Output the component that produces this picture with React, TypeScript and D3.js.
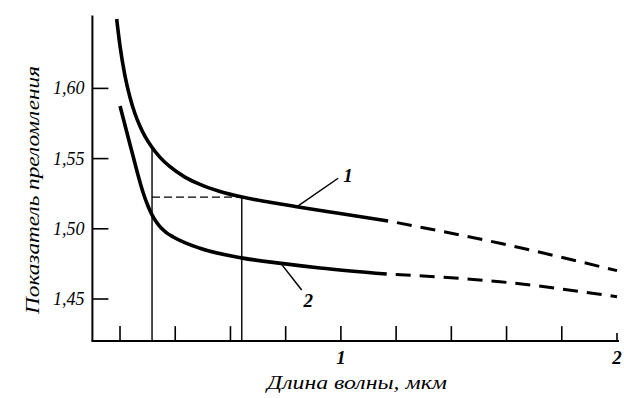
import React from 'react';
import * as d3 from 'd3';

const W = 624;
const H = 398;

// Axis ticks
const xTickValues = [0.2, 0.4, 0.6, 0.8, 1.0, 1.2, 1.4, 1.6, 1.8, 2.0];
const xTickLabels = ['', '', '', '', '1', '', '', '', '', '2'];
const yTickValues = [1.45, 1.5, 1.55, 1.6];
const yTickLabels = ['1,45', '1,50', '1,55', '1,60'];
const xDomain = [0.1, 2.0];
const yExtent = [1.42, 1.652];

// Curve 1 (solid measured part, dashed extrapolation)
const curve1Lambda = [0.188, 0.2, 0.218, 0.236, 0.254, 0.272, 0.29, 0.315, 0.345, 0.381, 0.435, 0.49, 0.562, 0.642, 0.743, 0.834, 0.997, 1.171];
const curve1N = [1.6494, 1.6302, 1.6089, 1.5937, 1.5821, 1.5732, 1.566, 1.5583, 1.5509, 1.5442, 1.5368, 1.5316, 1.5266, 1.5226, 1.5189, 1.5159, 1.5109, 1.5056];
const curve1DashLambda = [1.171, 1.576, 2.0];
const curve1DashN = [1.5056, 1.4897, 1.4702];

// Curve 2
const curve2Lambda = [0.2, 0.2254, 0.2482, 0.2652, 0.2844, 0.3014, 0.3159, 0.3304, 0.3485, 0.3666, 0.393, 0.4897, 0.6393, 0.7914, 0.9244, 1.166];
const curve2N = [1.5875, 1.5682, 1.5511, 1.5383, 1.5253, 1.5162, 1.5099, 1.5052, 1.5007, 1.4975, 1.4942, 1.4861, 1.4793, 1.4752, 1.4721, 1.4678];
const curve2DashLambda = [1.166, 1.576, 2.0];
const curve2DashN = [1.4678, 1.4623, 1.4516];

// Construction lines (wavelength markers and level on curve 1)
const markerLambda = [0.316, 0.641];
const markerN = [1.5581, 1.5226];

// Curve labels with leader lines
const labelText = ['1', '2'];
const leaderStartLambda = [0.84, 0.786];
const leaderStartN = [1.5157, 1.4745];
const leaderEndLambda = [0.99, 0.858];
const leaderEndN = [1.536, 1.4564];
const labelLambda = [1.026, 0.882];
const labelN = [1.5383, 1.4493];

const xTitle = 'Длина волны, мкм';
const yTitle = 'Показатель преломления';

const FONT = '"Liberation Serif", "DejaVu Serif", serif';

export default function App() {
  const x = d3.scaleLinear().domain(xDomain).range([92.4, 617]);
  const y = d3.scaleLinear().domain([1.45, 1.6]).range([299, 88.4]);

  const line = d3
    .line<[number, number]>()
    .x((d) => x(d[0]))
    .y((d) => y(d[1]))
    .curve(d3.curveMonotoneX);

  const zip = (a: number[], b: number[]) => a.map((v, i) => [v, b[i]] as [number, number]);

  const axisY = y(yExtent[0]);
  const axisX = x(xDomain[0]);

  return (
    <svg
      width={W}
      height={H}
      style={{ position: 'absolute', left: 0, top: 0, background: '#fff' }}
    >
      <rect x={0} y={0} width={W} height={H} fill="#fff" />
      {/* axes */}
      <line x1={axisX} y1={y(yExtent[1])} x2={axisX} y2={axisY} stroke="#000" strokeWidth={2} />
      <line x1={axisX - 1} y1={axisY} x2={x(2.0) + 2} y2={axisY} stroke="#000" strokeWidth={2} />

      {/* x ticks */}
      {xTickValues.map((v, i) => (
        <line
          key={'xt' + i}
          x1={x(v)}
          x2={x(v)}
          y1={axisY}
          y2={axisY - (i === xTickValues.length - 1 ? 8 : 15)}
          stroke="#000"
          strokeWidth={1.6}
        />
      ))}
      {xTickValues.map((v, i) =>
        xTickLabels[i] ? (
          <text
            key={'xl' + i}
            x={x(v)}
            y={axisY + 23}
            textAnchor="middle"
            fontFamily={FONT}
            fontStyle="italic"
            fontWeight="bold"
            fontSize={19}
          >
            {xTickLabels[i]}
          </text>
        ) : null
      )}

      {/* y ticks */}
      {yTickValues.map((v, i) => (
        <g key={'yt' + i}>
          <line x1={axisX} x2={axisX + 16} y1={y(v)} y2={y(v)} stroke="#000" strokeWidth={1.6} />
          <text
            x={axisX - 8}
            y={y(v) + 6}
            textAnchor="end"
            fontFamily={FONT}
            fontStyle="italic"
            fontSize={18}
          >
            {yTickLabels[i]}
          </text>
        </g>
      ))}

      {/* construction lines */}
      {markerLambda.map((v, i) => (
        <line
          key={'mk' + i}
          x1={x(v)}
          x2={x(v)}
          y1={axisY}
          y2={y(markerN[i])}
          stroke="#000"
          strokeWidth={1.4}
        />
      ))}
      <line
        x1={x(markerLambda[0])}
        x2={x(markerLambda[1])}
        y1={y(markerN[1])}
        y2={y(markerN[1])}
        stroke="#000"
        strokeWidth={1.3}
        strokeDasharray="8,4"
      />

      {/* curves */}
      <path d={line(zip(curve1Lambda, curve1N)) || ''} fill="none" stroke="#000" strokeWidth={3.6} />
      <path
        d={line(zip(curve1DashLambda, curve1DashN)) || ''}
        fill="none"
        stroke="#000"
        strokeWidth={3}
        strokeDasharray="15,9"
        strokeDashoffset={15}
      />
      <path d={line(zip(curve2Lambda, curve2N)) || ''} fill="none" stroke="#000" strokeWidth={3.6} />
      <path
        d={line(zip(curve2DashLambda, curve2DashN)) || ''}
        fill="none"
        stroke="#000"
        strokeWidth={3}
        strokeDasharray="15,9"
        strokeDashoffset={15}
      />

      {/* labels */}
      {labelText.map((t, i) => (
        <g key={'lb' + i}>
          <line
            x1={x(leaderStartLambda[i])}
            y1={y(leaderStartN[i])}
            x2={x(leaderEndLambda[i])}
            y2={y(leaderEndN[i])}
            stroke="#000"
            strokeWidth={1.5}
          />
          <text
            x={x(labelLambda[i])}
            y={y(labelN[i]) + 7}
            textAnchor="middle"
            fontFamily={FONT}
            fontStyle="italic"
            fontWeight="bold"
            fontSize={19}
          >
            {t}
          </text>
        </g>
      ))}

      {/* titles */}
      <text
        x={267}
        y={389}
        fontFamily={FONT}
        fontStyle="italic"
        fontSize={18}
        textLength={180}
        lengthAdjust="spacingAndGlyphs"
      >
        {xTitle}
      </text>
      <text
        transform="translate(39,314) rotate(-90)"
        x={0}
        y={0}
        fontFamily={FONT}
        fontStyle="italic"
        fontSize={19}
        textLength={248}
        lengthAdjust="spacingAndGlyphs"
      >
        {yTitle}
      </text>
    </svg>
  );
}
